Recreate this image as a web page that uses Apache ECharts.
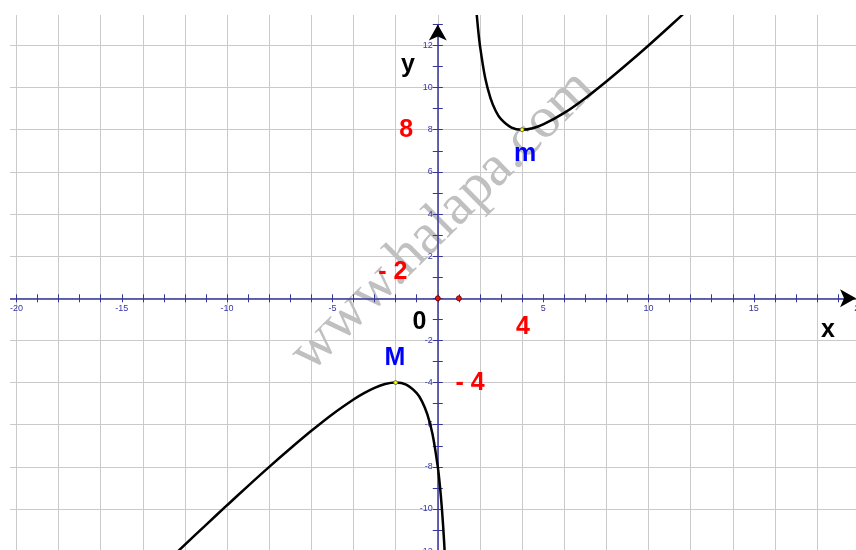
<!DOCTYPE html>
<html lang="en">
  <head>
    <meta charset="UTF-8" />
    <title>y = (x² + 8) / (x - 1)</title>
    <script src="https://cdn.jsdelivr.net/npm/echarts@6/dist/echarts.min.js"></script>
    <style>
      html, body { margin: 0; padding: 0; background: #fff; }
    </style>
  </head>
  <body>
    <div id="main" style="width: 856px; height: 550px"></div>

    <script>
      // curve, branch left of the asymptote x = 1
      const leftX = [-12.4, -11, -10, -9, -8, -7, -6, -5, -4, -3.5, -3, -2.5, -2, -1.5, -1, -0.75, -0.5, -0.25, 0, 0.1, 0.2, 0.3, 0.36]
      const leftY = [-12.07, -10.75, -9.82, -8.9, -8, -7.13, -6.29, -5.5, -4.8, -4.5, -4.25, -4.07, -4, -4.1, -4.5, -4.89, -5.5, -6.45, -8, -8.9, -10.05, -11.56, -12.7]
      // branch right of the asymptote
      const rightX = [1.72, 1.8, 1.9, 2, 2.25, 2.5, 2.75, 3, 3.5, 4, 4.5, 5, 6, 7, 8, 9, 10, 11, 12, 12.6]
      const rightY = [15.22, 14.05, 12.9, 12, 10.45, 9.5, 8.89, 8.5, 8.1, 8, 8.07, 8.25, 8.8, 9.5, 10.29, 11.13, 12, 12.9, 13.82, 14.38]

      const extremaX = [-2, 4] // M and m
      const extremaY = [-4, 8]
      const axisDotsX = [0, 1]
      const axisDotsY = [0, 0]

      const xTickLabels = [-20, -15, -10, -5, 5, 10, 15, 20]
      const yTickLabels = [-12, -10, -8, -6, -4, -2, 2, 4, 6, 8, 10, 12]

      const redNotes = ['8', '- 2', '- 4', '4']
      const redNotesAt = [[-1.5, 8], [-2.13, 1.24], [1.53, -4.02], [4.04, -1.36]]
      const blueNotes = ['M', 'm']
      const blueNotesAt = [[-2.03, -2.83], [4.14, 6.82]]
      const blackNotes = ['0', 'x', 'y']
      const blackNotesAt = [[-0.87, -1.15], [18.52, -1.5], [-1.42, 11.06]]

      // layout: origin in px and px per unit
      const W = 856, H = 550
      const X0 = 437.8, Y0 = 298.3, U = 21.07
      const NAVY = '#34349c'
      const LABEL = '#3535a8'

      function gridFor(xMin, xMax, yMin, yMax) {
        return {
          left: X0 + xMin * U,
          right: W - (X0 + xMax * U),
          top: Y0 - yMax * U,
          bottom: H - (Y0 - yMin * U),
          containLabel: false,
          outerBoundsMode: 'none',
        }
      }

      function hiddenAxis(i) {
        return { gridIndex: i, type: 'value', min: 0, max: 10, show: false }
      }

      function pairs(xs, ys) {
        return xs.map((x, i) => [x, ys[i]])
      }

      function notes(texts, at) {
        return texts.map((t, i) => ({ name: t, value: at[i] }))
      }

      function noteSeries(texts, at, color) {
        return {
          type: 'scatter',
          silent: true,
          symbolSize: 1,
          itemStyle: { color: 'transparent', opacity: 1 },
          data: notes(texts, at),
          z: 8,
          label: {
            show: true,
            position: 'inside',
            formatter: p => p.name,
            color: color,
            opacity: 1,
            textBorderWidth: 0,
            fontFamily: 'Liberation Sans, Arial, sans-serif',
            fontWeight: 'bold',
            fontSize: 25,
          },
        }
      }

      const tickLabelStyle = {
        color: LABEL,
        fontSize: 9,
        fontFamily: 'Liberation Sans, Arial, sans-serif',
      }

      const myChart = echarts.init(document.getElementById('main'))

      const options = {
        animation: false,
        backgroundColor: '#fff',
        grid: [
          gridFor(-22, 22, -14, 16), // plot + grid lines
          gridFor(-22, 22, 0, 10), // x axis, ticks down, labels
          gridFor(-22, 22, 0, 10), // x axis, ticks up
          gridFor(0, 10, -12, 13), // y axis, ticks left, labels
          gridFor(0, 10, -12, 13), // y axis, ticks right
        ],
        xAxis: [
          {
            gridIndex: 0, type: 'value', min: -22, max: 22, interval: 2,
            axisLine: { show: false }, axisTick: { show: false }, axisLabel: { show: false },
            splitLine: { show: true, lineStyle: { color: '#cacaca', width: 1 } },
          },
          {
            gridIndex: 1, type: 'value', min: -22, max: 22, interval: 1, position: 'bottom', z: 3,
            axisLine: { show: true, onZero: false, lineStyle: { color: NAVY, width: 1.5 } },
            axisTick: { show: true, inside: false, length: 4, lineStyle: { color: NAVY } },
            axisLabel: Object.assign({ margin: 6, formatter: v => (xTickLabels.includes(v) ? String(v) : '') }, tickLabelStyle),
            splitLine: { show: false },
          },
          {
            gridIndex: 2, type: 'value', min: -22, max: 22, interval: 1, position: 'bottom', z: 3,
            axisLine: { show: false, onZero: false },
            axisTick: { show: true, inside: true, length: 4, lineStyle: { color: NAVY } },
            axisLabel: { show: false },
            splitLine: { show: false },
          },
          hiddenAxis(3),
          hiddenAxis(4),
        ],
        yAxis: [
          {
            gridIndex: 0, type: 'value', min: -14, max: 16, interval: 2,
            axisLine: { show: false }, axisTick: { show: false }, axisLabel: { show: false },
            splitLine: { show: true, lineStyle: { color: '#cacaca', width: 1 } },
          },
          hiddenAxis(1),
          hiddenAxis(2),
          {
            gridIndex: 3, type: 'value', min: -12, max: 13, interval: 1, position: 'left', z: 3,
            axisLine: { show: true, onZero: false, lineStyle: { color: NAVY, width: 1.5 } },
            axisTick: { show: true, inside: false, length: 5, lineStyle: { color: NAVY } },
            axisLabel: Object.assign({ margin: 5, formatter: v => (yTickLabels.includes(v) ? String(v) : '') }, tickLabelStyle),
            splitLine: { show: false },
          },
          {
            gridIndex: 4, type: 'value', min: -12, max: 13, interval: 1, position: 'left', z: 3,
            axisLine: { show: false, onZero: false },
            axisTick: { show: true, inside: true, length: 5, lineStyle: { color: NAVY } },
            axisLabel: { show: false },
            splitLine: { show: false },
          },
        ],
        graphic: [
          {
            type: 'text',
            x: 443,
            y: 221,
            rotation: 0.78,
            z: 1,
            silent: true,
            style: {
              text: 'www.halapa.com',
              fontFamily: 'Liberation Serif, Times New Roman, serif',
              fontSize: 58,
              fill: '#c0c0c0',
              align: 'center',
              verticalAlign: 'middle',
            },
          },
          // blank margin on the left and top of the plot
          { type: 'rect', z: 50, silent: true, shape: { x: 0, y: 0, width: 10, height: H }, style: { fill: '#fff' } },
          { type: 'rect', z: 50, silent: true, shape: { x: 0, y: 0, width: W, height: 15 }, style: { fill: '#fff' } },
        ],
        series: [
          {
            type: 'line',
            silent: true,
            data: pairs(leftX, leftY),
            showSymbol: false,
            smooth: 0.35,
            lineStyle: { color: '#000', width: 2.5 },
            z: 5,
          },
          {
            type: 'line',
            silent: true,
            data: pairs(rightX, rightY),
            showSymbol: false,
            smooth: 0.35,
            lineStyle: { color: '#000', width: 2.5 },
            z: 5,
          },
          {
            type: 'scatter',
            silent: true,
            data: pairs(extremaX, extremaY),
            symbolSize: 4,
            itemStyle: { color: '#ffff00', borderColor: '#555', borderWidth: 0.8, opacity: 1 },
            z: 6,
          },
          {
            type: 'scatter',
            silent: true,
            data: pairs(axisDotsX, axisDotsY),
            symbolSize: 5,
            itemStyle: { color: '#ee1111', borderColor: '#550000', borderWidth: 0.8, opacity: 1 },
            z: 9,
          },
          {
            // arrow heads of both axes
            type: 'scatter',
            silent: true,
            symbol: 'arrow',
            symbolSize: [13.5, 16],
            itemStyle: { color: '#000', opacity: 1 },
            z: 9,
            data: [
              { value: [0, 13], symbolRotate: 0 },
              { value: [19.85, 0], symbolRotate: -90 },
            ],
          },
          noteSeries(redNotes, redNotesAt, '#ff0000'),
          noteSeries(blueNotes, blueNotesAt, '#0000ff'),
          noteSeries(blackNotes, blackNotesAt, '#000'),
        ],
      }

      myChart.setOption(options)
    </script>
  </body>
</html>
